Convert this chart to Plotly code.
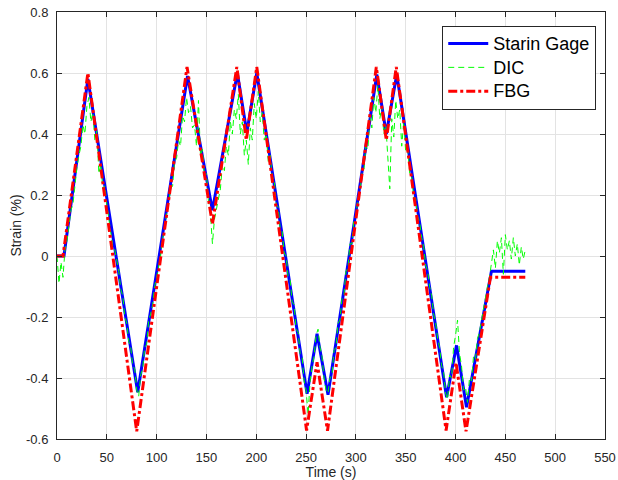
import numpy as np
import plotly.graph_objects as go

# Strain gage breakpoints (piecewise linear)
sg_t = [0, 7, 31, 81, 131, 156, 181, 190.5, 200.5, 251, 261, 272, 321, 330.5, 341, 391, 401, 411, 436, 470]
sg_v = [0, 0, 0.58, -0.447, 0.59, 0.15, 0.60, 0.405, 0.60, -0.452, -0.255, -0.455, 0.595, 0.40, 0.595, -0.463, -0.293, -0.496, -0.05, -0.05]

# FBG breakpoints
fbg_t = [0, 6, 31, 80, 130.5, 156, 180.5, 190, 200.5, 250.5, 261, 271.5, 320.5, 330.5, 340.5, 390.5, 400.5, 410.5, 435, 470]
fbg_v = [0, 0, 0.60, -0.575, 0.62, 0.105, 0.62, 0.38, 0.62, -0.572, -0.348, -0.573, 0.62, 0.38, 0.62, -0.572, -0.35, -0.575, -0.07, -0.07]

# DIC samples every 2 s from 0 to 470
dic_t = list(range(0, 472, 2))
dic_v = [
    0.00, -0.09, -0.02, -0.07, 0.02, 0.05, 0.10, 0.15, 0.17, 0.24,
    0.29, 0.33, 0.36, 0.43, 0.40, 0.49, 0.52, 0.44, 0.47, 0.38,
    0.41, 0.27, 0.30, 0.22, 0.23, 0.17, 0.12, 0.08, 0.03, 0.02,
    -0.02, -0.05, -0.11, -0.13, -0.20, -0.22, -0.28, -0.30, -0.36, -0.37,
    -0.44, -0.46, -0.39, -0.37, -0.30, -0.29, -0.21, -0.19, -0.16, -0.10,
    -0.07, -0.03, 0.00, 0.06, 0.08, 0.14, 0.17, 0.22, 0.23, 0.31,
    0.32, 0.38, 0.36, 0.46, 0.44, 0.52, 0.47, 0.49, 0.42, 0.43,
    0.36, 0.51, 0.33, 0.35, 0.26, 0.27, 0.18, 0.14, 0.04, 0.12,
    0.15, 0.19, 0.22, 0.30, 0.28, 0.36, 0.33, 0.44, 0.40, 0.48,
    0.45, 0.53, 0.40, 0.44, 0.33, 0.38, 0.30, 0.42, 0.38, 0.50,
    0.45, 0.54, 0.44, 0.47, 0.38, 0.40, 0.31, 0.33, 0.26, 0.25,
    0.17, 0.16, 0.09, 0.08, 0.01, 0.00, -0.07, -0.08, -0.15, -0.16,
    -0.24, -0.25, -0.32, -0.33, -0.41, -0.44, -0.52, -0.41, -0.36, -0.33,
    -0.26, -0.24, -0.30, -0.33, -0.40, -0.44, -0.45, -0.40, -0.39, -0.31,
    -0.30, -0.22, -0.21, -0.14, -0.13, -0.05, -0.04, 0.04, 0.04, 0.12,
    0.13, 0.19, 0.21, 0.27, 0.28, 0.36, 0.35, 0.46, 0.42, 0.52,
    0.47, 0.56, 0.45, 0.49, 0.40, 0.43, 0.33, 0.22, 0.45, 0.39,
    0.51, 0.45, 0.48, 0.36, 0.44, 0.34, 0.35, 0.27, 0.26, 0.19,
    0.19, 0.13, 0.11, 0.06, 0.03, -0.03, -0.05, -0.10, -0.13, -0.19,
    -0.22, -0.27, -0.30, -0.36, -0.38, -0.45, -0.47, -0.39, -0.40, -0.30,
    -0.26, -0.21, -0.32, -0.36, -0.44, -0.43, -0.48, -0.40, -0.41, -0.33,
    -0.34, -0.27, -0.25, -0.21, -0.17, -0.14, -0.10, -0.07, -0.03, 0.02,
    -0.04, 0.05, 0.01, 0.06, -0.06, 0.07, 0.02, 0.05, -0.01, 0.06,
    0.00, 0.04, -0.03, 0.03, -0.01, 0.02,
]

x_ticks = [0, 50, 100, 150, 200, 250, 300, 350, 400, 450, 500, 550]
y_ticks = [-0.6, -0.4, -0.2, 0, 0.2, 0.4, 0.6, 0.8]
y_tick_labels = ["-0.6", "-0.4", "-0.2", "0", "0.2", "0.4", "0.6", "0.8"]
series_names = ["Starin Gage", "DIC", "FBG"]

FONT = "Liberation Sans, Arial, sans-serif"


def leg(name):
    return '<span style="font-size:18px">%s</span>' % name


fig = go.Figure()
fig.add_trace(go.Scatter(x=sg_t, y=sg_v, mode="lines", name=leg(series_names[0]),
                         line=dict(color="rgb(0,0,255)", width=3)))
fig.add_trace(go.Scatter(x=dic_t, y=dic_v, mode="lines", name=leg(series_names[1]),
                         line=dict(color="rgb(0,255,0)", width=1, dash="6px,4px")))
fig.add_trace(go.Scatter(x=fbg_t, y=fbg_v, mode="lines", name=leg(series_names[2]),
                         line=dict(color="rgb(255,0,0)", width=3, dash="9px,3px,3px,3px")))

axis_common = dict(
    showline=True, linecolor="#262626", linewidth=1, mirror="ticks",
    ticks="inside", ticklen=5, tickcolor="#262626",
    showgrid=True, gridcolor="#e3e3e3", gridwidth=1, zeroline=False,
    automargin=False,
    tickfont=dict(family=FONT, size=13, color="#262626"),
)

fig.update_xaxes(range=[0, 550], tickvals=x_ticks, ticklabelstandoff=6,
                 title=dict(text="Time (s)", standoff=4,
                            font=dict(family=FONT, size=14, color="#262626")),
                 **axis_common)
fig.update_yaxes(range=[-0.6, 0.8], tickvals=y_ticks, ticktext=y_tick_labels, ticklabelstandoff=5,
                 title=dict(text="Strain (%)", standoff=1,
                            font=dict(family=FONT, size=14, color="#262626")),
                 **axis_common)

fig.update_layout(
    width=618, height=480,
    margin=dict(l=57, r=13, t=12, b=41),
    paper_bgcolor="white", plot_bgcolor="white",
    legend=dict(x=0.703, y=0.968, xanchor="left", yanchor="top",
                bgcolor="white", bordercolor="#262626", borderwidth=1,
                font=dict(family=FONT, size=16, color="black"),
                tracegroupgap=0, itemwidth=40),
    showlegend=True,
)

fig.write_html("out.html", config={"displayModeBar": False},
               post_script="document.body.style.margin='0';document.body.style.overflow='hidden';")
